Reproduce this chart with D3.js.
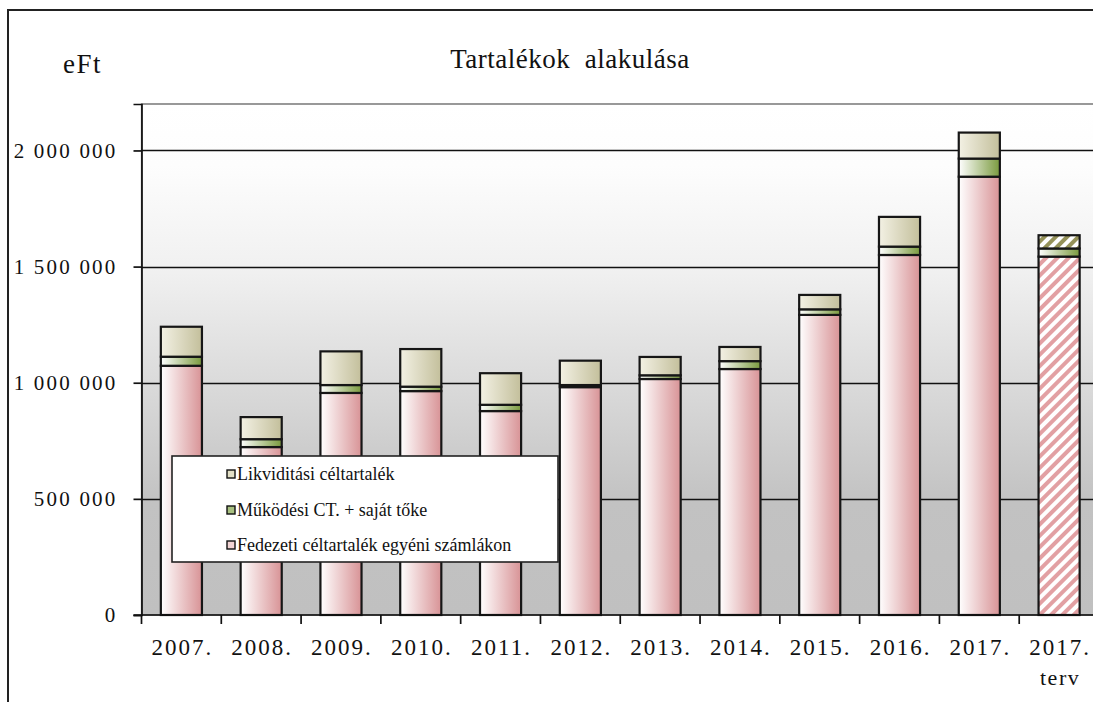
<!DOCTYPE html>
<html>
<head>
<meta charset="utf-8">
<script src="https://cdn.jsdelivr.net/npm/d3@7"></script>
<style>
  html, body { margin: 0; padding: 0; background: #fff; }
  svg { display: block; }
  text { font-family: "Liberation Serif", "Times New Roman", serif; fill: #111; }
</style>
</head>
<body>
<div id="chart"></div>
<script>
// ---- data (eFt) ----
var years = ['2007.', '2008.', '2009.', '2010.', '2011.', '2012.', '2013.', '2014.', '2015.', '2016.', '2017.', '2017.'];
var subLabels = ['', '', '', '', '', '', '', '', '', '', '', 'terv'];
var fedezeti   = [1073000, 723000, 956000, 964000, 878000, 981000, 1016000, 1059000, 1292000, 1550000, 1887000, 1543000];
var mukodesi   = [39000, 34000, 34000, 19000, 27000, 9000, 16000, 34000, 24000, 36000, 78000, 35000];
var likviditas = [129000, 95000, 145000, 162000, 136000, 105000, 79000, 61000, 62000, 128000, 112000, 57000];
var yTicks = [0, 500000, 1000000, 1500000, 2000000];
var seriesNames = ['Likviditási céltartalék', 'Működési CT. + saját tőke', 'Fedezeti céltartalék egyéni számlákon'];
var planIndex = 11;

var W = 1093, H = 702;
var plot = { left: 141.5, top: 104, right: 1099, bottom: 615 };

var svg = d3.select('#chart').append('svg')
  .attr('width', W).attr('height', H);

var defs = svg.append('defs');

// plot background gradient (white top -> grey bottom)
var bg = defs.append('linearGradient').attr('id', 'bgGrad')
  .attr('x1', 0).attr('y1', 0).attr('x2', 0).attr('y2', 1);
[[0, '#ffffff'], [0.12, '#fdfdfd'], [0.33, '#f0f0f0'], [0.55, '#dadada'], [0.78, '#c2c2c2'], [1, '#c0c0c0']]
  .forEach(function(s) { bg.append('stop').attr('offset', s[0]).attr('stop-color', s[1]); });

// horizontal bar gradients
function hGrad(id, c0, c1) {
  var g = defs.append('linearGradient').attr('id', id)
    .attr('x1', 0).attr('y1', 0).attr('x2', 1).attr('y2', 0);
  g.append('stop').attr('offset', 0).attr('stop-color', c0);
  g.append('stop').attr('offset', 1).attr('stop-color', c1);
}
hGrad('gPink', '#ffffff', '#d89396');
hGrad('gGreen', '#ffffff', '#7a9a3e');
hGrad('gBeige', '#f3f1e4', '#c3bf9b');

// hatch patterns for the plan bar
function hatch(id, color) {
  var p = defs.append('pattern').attr('id', id)
    .attr('patternUnits', 'userSpaceOnUse')
    .attr('width', 8).attr('height', 8)
    .attr('patternTransform', 'rotate(45)');
  p.append('rect').attr('width', 8).attr('height', 8).attr('fill', '#ffffff');
  p.append('rect').attr('width', 4).attr('height', 8).attr('fill', color);
}
hatch('hPink', '#e2a0a3');
hatch('hOlive', '#959259');

// outer frame
svg.append('rect')
  .attr('x', 8).attr('y', 10).attr('width', 1200).attr('height', 800)
  .attr('fill', 'none').attr('stroke', '#222').attr('stroke-width', 2);

// scales
var x = d3.scaleBand()
  .domain(d3.range(years.length))
  .range([plot.left, plot.right])
  .padding(0);
var y = d3.scaleLinear()
  .domain([0, 2200000])
  .range([plot.bottom, plot.top]);

// plot area
svg.append('rect')
  .attr('x', plot.left).attr('y', plot.top)
  .attr('width', plot.right - plot.left).attr('height', plot.bottom - plot.top)
  .attr('fill', 'url(#bgGrad)')
  .attr('stroke', '#555').attr('stroke-width', 1.2);

// gridlines
svg.append('g').selectAll('line')
  .data(yTicks.slice(1))
  .join('line')
  .attr('x1', plot.left).attr('x2', W)
  .attr('y1', function(d) { return Math.round(y(d)) + 0.5; })
  .attr('y2', function(d) { return Math.round(y(d)) + 0.5; })
  .attr('stroke', '#111').attr('stroke-width', 1.7);

// stacked bars
var rows = years.map(function(yr, i) {
  return { i: i, fed: fedezeti[i], muk: mukodesi[i], lik: likviditas[i] };
});
var stack = d3.stack().keys(['fed', 'muk', 'lik'])(rows);
var fills = {
  fed: function(i) { return i === planIndex ? 'url(#hPink)' : 'url(#gPink)'; },
  muk: function(i) { return 'url(#gGreen)'; },
  lik: function(i) { return i === planIndex ? 'url(#hOlive)' : 'url(#gBeige)'; }
};
var barW = x.bandwidth() * 0.515;

svg.append('g').selectAll('g')
  .data(stack)
  .join('g')
  .each(function(layer) {
    d3.select(this).selectAll('rect')
      .data(layer)
      .join('rect')
      .attr('x', function(d) { return x(d.data.i) + (x.bandwidth() - barW) / 2; })
      .attr('width', barW)
      .attr('y', function(d) { return y(d[1]); })
      .attr('height', function(d) { return y(d[0]) - y(d[1]); })
      .attr('fill', function(d) { return fills[layer.key](d.data.i); })
      .attr('stroke', '#161616')
      .attr('stroke-width', 2.2);
  });

// y axis
var yAxis = svg.append('g')
  .attr('transform', 'translate(' + plot.left + ',0)')
  .call(d3.axisLeft(y)
    .tickValues(yTicks)
    .tickSize(8)
    .tickPadding(16)
    .tickFormat(function(d) { return d3.format(',')(d).replace(/,/g, ' '); }));
yAxis.select('.domain').attr('stroke', '#111').attr('stroke-width', 1.7);
yAxis.selectAll('.tick line').attr('stroke', '#111').attr('stroke-width', 1.7);
yAxis.selectAll('.tick text')
  .attr('font-size', 21)
  .attr('letter-spacing', 2.2)
  .attr('fill', '#111');

// x axis (ticks between categories)
var xAxisG = svg.append('g');
xAxisG.append('line')
  .attr('x1', plot.left - 8).attr('x2', W)
  .attr('y1', plot.bottom).attr('y2', plot.bottom)
  .attr('stroke', '#111').attr('stroke-width', 1.7);
xAxisG.selectAll('.xtick')
  .data(d3.range(years.length))
  .join('line')
  .attr('class', 'xtick')
  .attr('x1', function(i) { return x(i); })
  .attr('x2', function(i) { return x(i); })
  .attr('y1', plot.bottom).attr('y2', plot.bottom + 9)
  .attr('stroke', '#111').attr('stroke-width', 1.7);
xAxisG.selectAll('.xlabel')
  .data(years)
  .join('text')
  .attr('class', 'xlabel')
  .attr('x', function(d, i) { return x(i) + x.bandwidth() / 2 + 1; })
  .attr('y', 655)
  .attr('text-anchor', 'middle')
  .attr('font-size', 23)
  .attr('letter-spacing', 2)
  .text(function(d) { return d; });
xAxisG.selectAll('.xsub')
  .data(subLabels)
  .join('text')
  .attr('class', 'xsub')
  .attr('x', function(d, i) { return x(i) + x.bandwidth() / 2 + 1; })
  .attr('y', 685)
  .attr('text-anchor', 'middle')
  .attr('font-size', 22)
  .attr('letter-spacing', 1.5)
  .text(function(d) { return d; });

// title & unit
svg.append('text')
  .attr('x', 570).attr('y', 68)
  .attr('text-anchor', 'middle')
  .attr('font-size', 27)
  .attr('letter-spacing', 0.5)
  .attr('xml:space', 'preserve')
  .text('Tartalékok  alakulása');
svg.append('text')
  .attr('x', 63).attr('y', 73)
  .attr('font-size', 27)
  .attr('letter-spacing', 1.5)
  .text('eFt');

// legend
var legend = svg.append('g');
legend.append('rect')
  .attr('x', 172).attr('y', 456)
  .attr('width', 386).attr('height', 106)
  .attr('fill', '#ffffff')
  .attr('stroke', '#222').attr('stroke-width', 1.6);
var legendFills = ['#e3e0c6', '#a8c080', '#f2d4d4'];
var legendY = [474, 510, 545];
seriesNames.forEach(function(name, k) {
  legend.append('rect')
    .attr('x', 227).attr('y', legendY[k] - 4)
    .attr('width', 8).attr('height', 8)
    .attr('fill', legendFills[k])
    .attr('stroke', '#111').attr('stroke-width', 1.4);
  legend.append('text')
    .attr('x', 237).attr('y', legendY[k] + 6)
    .attr('font-size', 18)
    .text(name);
});
</script>
</body>
</html>
